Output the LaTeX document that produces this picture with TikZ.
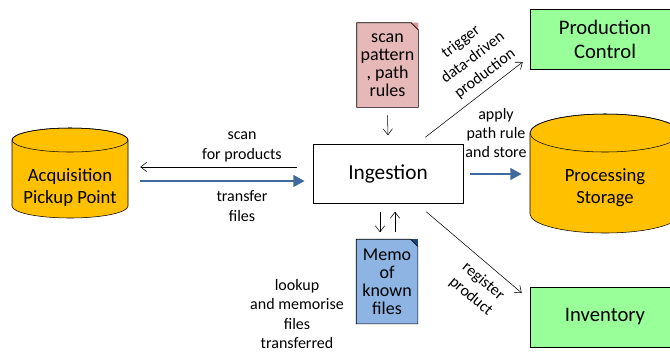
\documentclass[tikz,border=0pt]{standalone}
\usepackage{fontspec}
\setmainfont{Carlito}
\usetikzlibrary{arrows.meta,calc,backgrounds}

\definecolor{storegold}{RGB}{255,192,0}
\definecolor{ctrlgreen}{RGB}{153,255,153}
\definecolor{rulepink}{RGB}{230,184,183}
\definecolor{rulefold}{RGB}{218,150,148}
\definecolor{memoblue}{RGB}{141,180,226}
\definecolor{memofold}{RGB}{31,73,125}
\definecolor{flowblue}{RGB}{62,106,158}

% page with a folded top right corner, put behind a named node
\newcommand{\docpage}[3]{%
  \begin{pgfonlayer}{background}
    \filldraw[fill=#2, draw=black, thin] (#1.south west) -- (#1.north west)
      -- ($(#1.north east)+(-7,0)$) -- ($(#1.north east)+(0,7)$)
      -- (#1.south east) -- cycle;
    \fill[#3] ($(#1.north east)+(-7,0)$) -- (#1.north east) -- ($(#1.north east)+(0,7)$) -- cycle;
    \draw[thin] ($(#1.north east)+(-7,0)$) -- ($(#1.north east)+(0,7)$);
  \end{pgfonlayer}}

% storage drum: centre x, top y, bottom y, x radius, y radius
\newcommand{\storecyl}[5]{%
  \filldraw[fill=storegold, draw=black, thin] ({#1-#4},{#2+#5}) -- ({#1-#4},{#3-#5})
    arc[start angle=180, end angle=0, x radius=#4, y radius=#5]
    -- ({#1+#4},{#2+#5})
    arc[start angle=0, end angle=-180, x radius=#4, y radius=#5] -- cycle;
  \draw[thin] (#1,{#2+#5}) ellipse[x radius=#4, y radius=#5];}

\begin{document}
\begin{tikzpicture}[
        x=0.75pt, y=-0.75pt,
        storetext/.style={align=center, inner sep=0pt, font=\fontsize{14}{16.5}\selectfont},
        ingestbox/.style={draw, thin, minimum width=112.5pt, minimum height=44.25pt, font=\fontsize{16}{19}\selectfont},
        ctrlbox/.style={draw, thin, fill=ctrlgreen, align=center, minimum width=112.5pt, minimum height=45pt, font=\fontsize{15.5}{18}\selectfont},
        docbox/.style={align=center, inner sep=0pt, minimum width=45.75pt, minimum height=63pt, font=\fontsize{13.5}{13.5}\selectfont},
        edgetext/.style={align=center, inner sep=0pt, font=\fontsize{12}{14.5}\selectfont},
        thinarrow/.style={thin, -{Straight Barb[length=4.5pt, width=7pt]}},
        bluearrow/.style={flowblue, line width=2.2pt, -{Triangle[length=8.5pt, width=8.5pt]}}
    ]
    \useasboundingbox (0,0) rectangle (670,351);
    \begin{pgfonlayer}{background}
        \fill[white] (0,0) rectangle (670,351);
    \end{pgfonlayer}

    % storage drums
    \storecyl{70}{128}{218}{58}{12}
    \storecyl{605}{114}{233}{75}{19}

    % nodes
    \node[storetext, minimum width=87pt] (acq) at (70,188) {Acquisition\\Pickup Point};
    \node[storetext, minimum width=112.5pt] (store) at (605,188) {Processing\\Storage};
    \node[ingestbox] (ingest) at (388,174) {Ingestion};
    \node[ctrlbox] (prod) at (605,39) {Production\\Control};
    \node[ctrlbox] (inv) at (605,317) {Inventory};
    \node[docbox] (rules) at (387.5,65) {scan\\pattern\\, path\\rules};
    \node[docbox] (memo) at (387,281.5) {Memo\\of\\known\\files};
    \docpage{rules}{rulepink}{rulefold}
    \docpage{memo}{memoblue}{memofold}

    % connectors
    \draw[thinarrow] ($(ingest.west)+(-16,-7)$) -- ($(acq.east)+(12,-21)$);
    \draw[bluearrow] ($(acq.east)+(12,-7)$) -- ($(ingest.west)+(-8,7)$);
    \draw[bluearrow] ($(ingest.east)+(7,0)$) -- ($(store.west)+(-8,-14)$);
    \draw[thinarrow] ($(rules.south)+(0,8)$) -- ($(ingest.north)+(0,-9)$);
    \draw[thinarrow] ($(ingest.south)+(-8,8)$) -- ($(memo.north)+(-7,-7)$);
    \draw[thinarrow] ($(memo.north)+(8,-7)$) -- ($(ingest.south)+(7,8)$);
    \draw[thinarrow] ($(ingest.north east)+(-38,-7)$) -- ($(prod.west)+(-7,23)$);
    \draw[thinarrow] ($(ingest.south east)+(-37,8)$) -- ($(inv.west)+(-8,-24)$);

    % connector texts
    \node[edgetext] (scanlbl) at (242,147) {scan\\for products};
    \node[edgetext] (transferlbl) at (242,206) {transfer\\files};
    \node[edgetext] (applylbl) at (496,133) {apply\\path rule\\and store};
    \node[edgetext] (lookuplbl) at (297,314) {lookup\\and memorise\\files\\transferred};
    \node[edgetext, rotate=37, font=\fontsize{12}{15}\selectfont] (triggerlbl) at (473,58) {trigger\\data-driven\\production};
    \node[edgetext, rotate=-40] (registerlbl) at (477,289) {register\\product};
\end{tikzpicture}
\end{document}
